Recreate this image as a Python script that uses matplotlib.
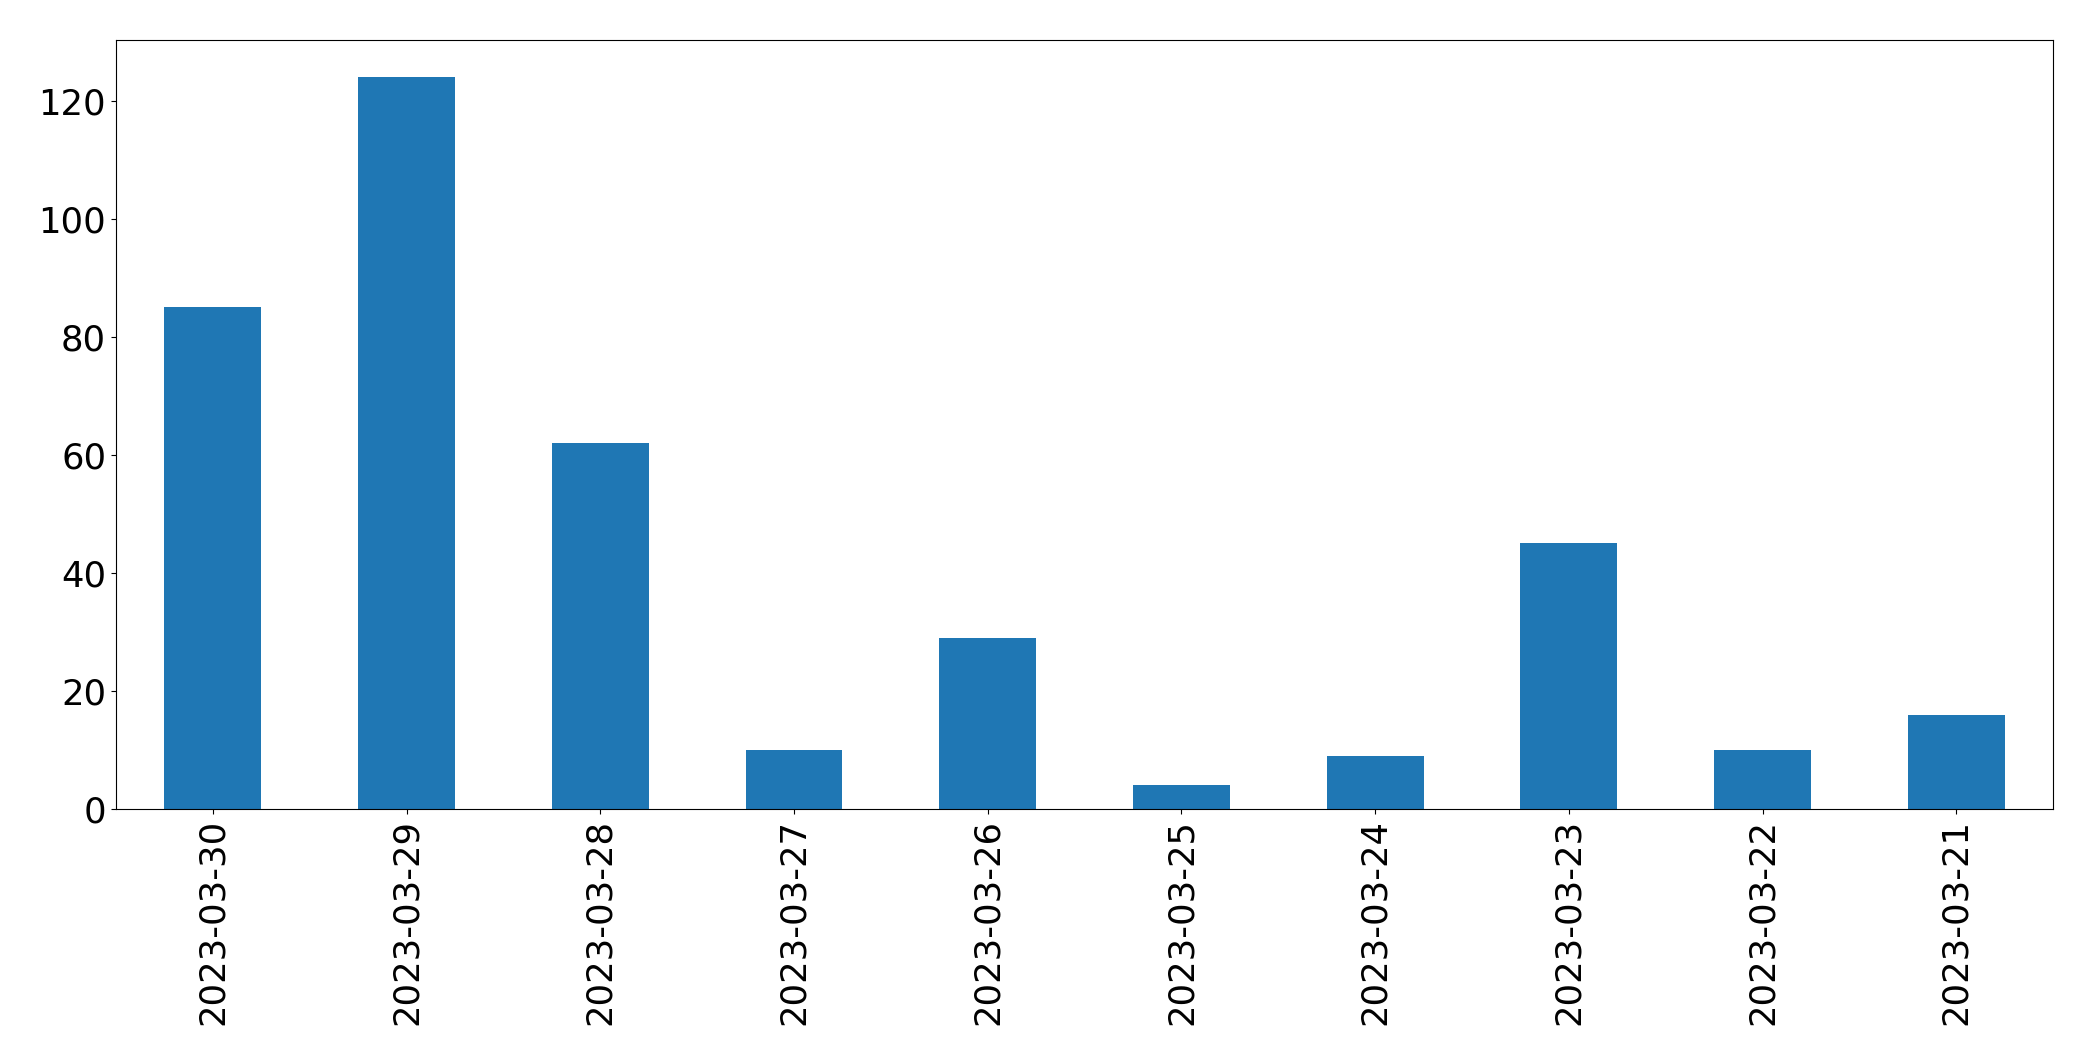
import matplotlib
matplotlib.use("Agg")
import matplotlib.pyplot as plt
import numpy as np

dates = ["2023-03-30", "2023-03-29", "2023-03-28", "2023-03-27", "2023-03-26",
         "2023-03-25", "2023-03-24", "2023-03-23", "2023-03-22", "2023-03-21"]
counts = [85, 124, 62, 10, 29, 4, 9, 45, 10, 16]

fig, ax = plt.subplots(figsize=(20.93, 10.61), dpi=100)
fig.subplots_adjust(left=0.0554, right=0.981, top=0.962, bottom=0.2375)

x = np.arange(len(dates))
ax.bar(x, counts, width=0.5, color="#1f77b4")
ax.set_xlim(-0.5, len(dates) - 0.5)
ax.set_ylim(0, max(counts) * 1.05)
ax.set_xticks(x)
ax.set_xticklabels(dates, rotation=90)
ax.tick_params(axis="both", labelsize=25.5)

fig.savefig("out.png", dpi=100)
